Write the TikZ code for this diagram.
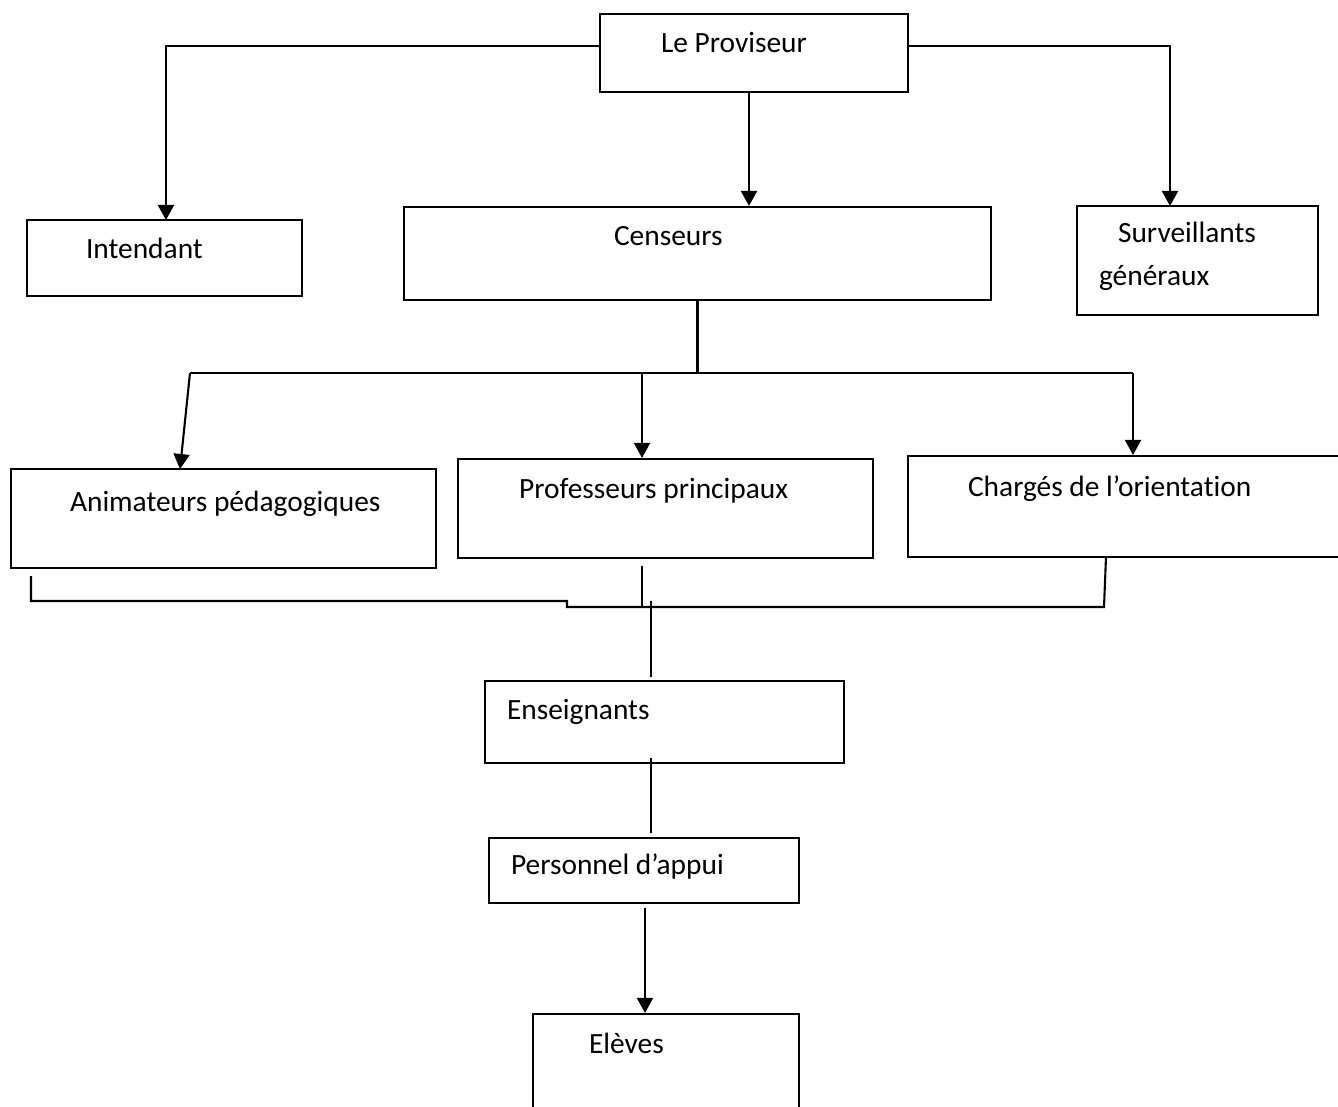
\documentclass[tikz,border=0pt]{standalone}
\usepackage{fontspec}
\setmainfont{Carlito}[Ligatures={NoCommon}]
\usetikzlibrary{arrows.meta,fit}
\begin{document}
\begin{tikzpicture}[x=1pt,y=-1pt,line width=2.1pt,
  >={Triangle[width=16pt,length=15pt]},
  box/.style={draw,line width=2.1pt,inner sep=0pt},
  lbl/.style={inner sep=0pt,anchor=base west,font=\fontsize{29.4}{34}\selectfont}]
\useasboundingbox (0,0) rectangle (1338,1107);
\clip (0,0) rectangle (1338,1107);
% boxes
\node[box,fit={(600,14) (908,92)}] (prov) {};
\node[box,fit={(27,220) (302,296)}] (int) {};
\node[box,fit={(404,207) (991,300)}] (cens) {};
\node[box,fit={(1077,206) (1318,315)}] (surv) {};
\node[box,fit={(11,469) (436,568)}] (anim) {};
\node[box,fit={(458,459) (873,558)}] (prof) {};
\node[box,fit={(908,456) (1350,557)}] (charg) {};
\node[box,fit={(485,681) (844,763)}] (ens) {};
\node[box,fit={(489,838) (799,903)}] (pers) {};
\node[box,fit={(533,1014) (799,1130)}] (elev) {};
% labels
\node[lbl] (prov-t) at (660,53) {Le Proviseur};
\node[lbl] (int-t) at (85,259) {Intendant};
\node[lbl] (cens-t) at (613,246) {Censeurs};
\node[lbl] (surv-t1) at (1117,243) {Surveillants};
\node[lbl] (surv-t2) at (1098,285) {généraux};
\node[lbl] (anim-t) at (69,511) {Animateurs pédagogiques};
\node[lbl] (prof-t) at (518,498) {Professeurs principaux};
\node[lbl] (charg-t) at (967,496) {Chargés de l’orientation};
\node[lbl] (ens-t) at (506,719) {Enseignants};
\node[lbl] (pers-t) at (510,874) {Personnel d’appui};
\node[lbl] (elev-t) at (588,1053) {Elèves};
% junction coordinates
\coordinate (jl) at (190,373);
\coordinate (jm) at (642,373);
\coordinate (jr) at (1133,373);
\coordinate (bl) at (31,601);
\coordinate (bs1) at (567,601);
\coordinate (bs2) at (567,607);
\coordinate (br) at (1104,607);
\coordinate (bp) at (642,607);
\coordinate (be) at (651,601);
\coordinate (pe) at (645,908);
% top connectors
\draw[->] ([yshift=7pt]prov.west) -| (166,220);
\draw[->] ([yshift=7pt]prov.east) -| (1170,206);
\draw[->] ([xshift=-5pt]prov.south) -- ([xshift=-5pt]prov.south |- cens.north);
% censeurs distribution
\draw (cens.south) -- (cens.south |- jl);
\draw (jl) -- (jr);
\draw[->] (jl) -- (180,469);
\draw[->] (jm) -- (jm |- prof.north);
\draw[->] (jr) -- (jr |- charg.north);
% lower bracket
\draw (31,576) -- (bl) -- (bs1) -- (bs2) -- (br) -- (1106,557);
\draw (642,566) -- (bp);
\draw (be) -- (651,677);
\draw (651,758) -- (651,833);
\draw[->] (pe) -- (pe |- elev.north);
\end{tikzpicture}
\end{document}
